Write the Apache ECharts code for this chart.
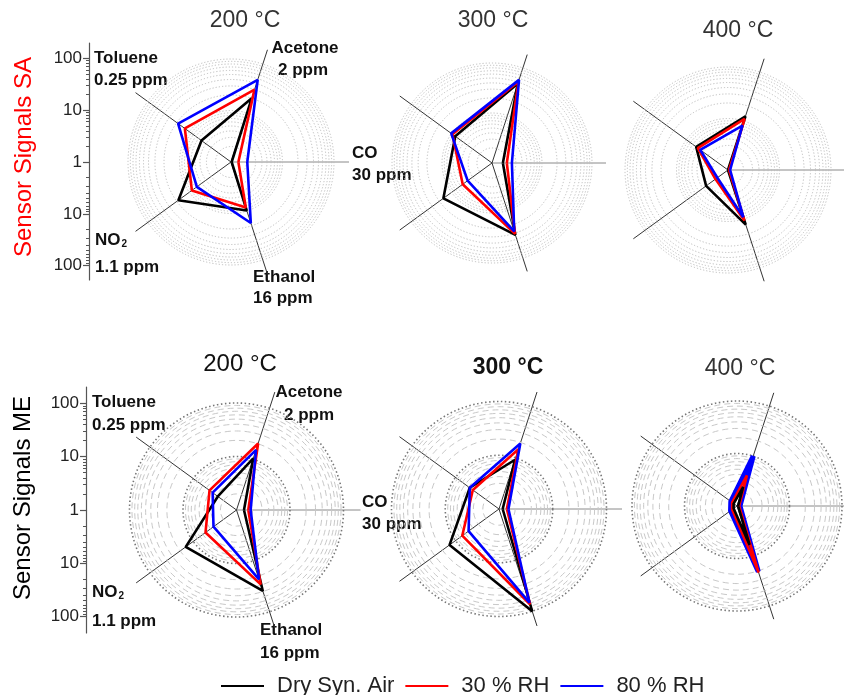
<!DOCTYPE html>
<html>
<head>
<meta charset="utf-8">
<script src="https://cdn.jsdelivr.net/npm/echarts@6/dist/echarts.min.js"></script>
<style>
  html, body { margin: 0; padding: 0; background: #fff; }
  #chart { width: 844px; height: 695px; }
</style>
</head>
<body>
<div id="chart"></div>
<script>
// Gas order around every radar, counter-clockwise starting at the CO spoke
const gases = ['CO', 'Acetone', 'Toluene', 'NO2', 'Ethanol'];
const gasAngles = [0, 72, 144, 216, 288];
const seriesNames = ['Dry Syn. Air', '30 % RH', '80 % RH'];
const panelTitles = ['200 °C', '300 °C', '400 °C', '200 °C', '300 °C', '400 °C'];

// Sensor signals (1 = no response), in gas order: CO, Acetone, Toluene, NO2, Ethanol
// Sensor SA
const saDry200 = [1.03, 20, 5.1, 18.3, 9.8];
const saRh30_200 = [1.39, 30, 12.8, 8.7, 8.5];
const saRh80_200 = [2.07, 47.6, 18.6, 6.6, 17.6];
const saDry300 = [1.65, 47, 8.1, 15.9, 32.5];
const saRh30_300 = [1.98, 52, 9.5, 5.3, 31];
const saRh80_300 = [2.5, 56, 10.2, 4.0, 27.5];
const saDry400 = [1.0, 12.5, 5.8, 3.35, 13];
const saRh30_400 = [1.05, 11.1, 5.3, 2.0, 10.8];
const saRh80_400 = [1.1, 8.1, 4.65, 1.8, 9.2];
// Sensor ME
const meDry200 = [1.38, 10.3, 2.7, 14.9, 39];
const meRh30_200 = [1.66, 20.3, 4.2, 5.2, 29];
const meRh80_200 = [1.84, 15.2, 3.56, 3.4, 23];
const meDry300 = [1.17, 9.2, 4.7, 13.7, 100];
const meRh30_300 = [1.4, 14.7, 4.0, 7.0, 73];
const meRh80_300 = [1.5, 19.2, 4.7, 5.0, 68];
const meDry400 = [1.05, 2.4, 1.2, 1.2, 6];
const meRh30_400 = [1.1, 4.1, 1.3, 1.3, 21.5];
const meRh80_400 = [1.14, 10, 1.4, 1.42, 20.6];

// Log grid rings and tick values
const ringValues = [2, 3, 4, 5, 6, 7, 8, 9, 10, 20, 30, 40, 50, 60, 70, 80, 90, 100];
const majorTickValues = [1, 10, 100];
const minorTickValues = [2, 3, 4, 5, 6, 7, 8, 9, 20, 30, 40, 50, 60, 70, 80, 90];
const upperTickLabels = [1, 10, 100];
const lowerTickLabels = [10, 100];

const FONT = 'Arial, "Liberation Sans", Helvetica, sans-serif';
const lineColors = ['#000000', '#ff0000', '#0000ff'];

// Panel geometry: centre, pixel radius of the 100 ring, spoke length
const panels = [
  { cx: 231, cy: 162, r100: 103, spoke: 118, row: 0, sets: [saDry200, saRh30_200, saRh80_200] },
  { cx: 492, cy: 163, r100: 100, spoke: 114, row: 0, sets: [saDry300, saRh30_300, saRh80_300] },
  { cx: 728, cy: 170, r100: 103, spoke: 117, row: 0, sets: [saDry400, saRh30_400, saRh80_400] },
  { cx: 236.5, cy: 510, r100: 107, spoke: 124, row: 1, sets: [meDry200, meRh30_200, meRh80_200] },
  { cx: 499, cy: 509, r100: 107.5, spoke: 123, row: 1, sets: [meDry300, meRh30_300, meRh80_300] },
  { cx: 737, cy: 506, r100: 105, spoke: 119, row: 1, sets: [meDry400, meRh30_400, meRh80_400], wideBlue: true }
];

// Vertical log scales drawn left of the first column
const leftAxes = [
  { x: 89, cy: 162, perDecade: 51.85, up: 119, down: 118 },
  { x: 86, cy: 510, perDecade: 53.3, up: 123, down: 123 }
];

function closedLoop(vals) {
  const pts = vals.map((v, j) => [v, gasAngles[j]]);
  pts.push([vals[0], 360]);
  return pts;
}

const polar = [], angleAxis = [], radiusAxis = [], series = [];

panels.forEach((p, i) => {
  const maxVal = Math.pow(10, 2 * p.spoke / p.r100);
  polar.push({ center: [p.cx, p.cy], radius: p.spoke });
  angleAxis.push({
    polarIndex: i, type: 'value', min: 0, max: 360, interval: 72,
    startAngle: 0, clockwise: false,
    axisLine: { show: false }, axisTick: { show: false }, axisLabel: { show: false },
    splitLine: { show: true, lineStyle: { color: ['#8a8a8a', '#333', '#333', '#333', '#333'], width: 1 } }
  });
  radiusAxis.push({
    polarIndex: i, type: 'log', logBase: 10, min: 1, max: maxVal,
    axisLine: { show: false }, axisTick: { show: false }, axisLabel: { show: false },
    splitLine: { show: false }
  });

  // Concentric log rings
  series.push({
    type: 'custom', coordinateSystem: 'polar', polarIndex: i, silent: true, z: 1,
    data: ringValues.map(v => [v, 0]),
    renderItem: function (params, api) {
      const v = api.value(0);
      const c = api.coord([1, 0]);
      const e = api.coord([v, 0]);
      const r = Math.hypot(e[0] - c[0], e[1] - c[1]);
      const decade = (v === 10 || v === 100);
      let style;
      if (p.row === 0) {
        style = { fill: 'none', stroke: '#bdbdbd', lineWidth: 1, lineDash: [1.2, 2] };
      } else if (decade) {
        style = { fill: 'none', stroke: '#777', lineWidth: 1.6, lineDash: [1.5, 2.5] };
      } else {
        style = { fill: 'none', stroke: '#c8c8c8', lineWidth: 1, lineDash: [6, 4] };
      }
      return { type: 'circle', shape: { cx: c[0], cy: c[1], r: r }, style: style };
    }
  });

  p.sets.forEach((vals, k) => {
    const w = (p.wideBlue && k === 2) ? 5 : 2.6;
    series.push({
      type: 'line', name: seriesNames[k], coordinateSystem: 'polar', polarIndex: i,
      data: closedLoop(vals), showSymbol: false, symbol: 'none', z: 3 + (p.wideBlue ? 2 - k : k),
      lineStyle: { color: lineColors[k], width: w },
      itemStyle: { color: lineColors[k] }
    });
  });
});

const grid = [], xAxis = [], yAxis = [];
leftAxes.forEach(ax => {
  [false, true].forEach(lower => {
    const ext = lower ? ax.down : ax.up;
    const gi = grid.length;
    grid.push({ left: ax.x, top: lower ? ax.cy : ax.cy - ext, width: 1, height: ext });
    xAxis.push({ gridIndex: gi, type: 'value', show: false });
    const base = {
      gridIndex: gi, type: 'log', logBase: 10, min: 1, max: Math.pow(10, ext / ax.perDecade),
      inverse: lower, position: 'left', splitLine: { show: false }
    };
    yAxis.push(Object.assign({}, base, {
      axisLine: { show: true, lineStyle: { color: '#555', width: 1.2 } },
      axisTick: { show: true, inside: false, length: 6, customValues: lower ? majorTickValues.slice(1) : majorTickValues, lineStyle: { color: '#555', width: 1.2 } },
      axisLabel: { show: true, customValues: lower ? lowerTickLabels : upperTickLabels, fontSize: 17, color: '#222', margin: 7, fontFamily: FONT }
    }));
    yAxis.push(Object.assign({}, base, {
      axisLine: { show: false },
      axisTick: { show: true, inside: false, length: 3, customValues: minorTickValues, lineStyle: { color: '#555', width: 1 } },
      axisLabel: { show: false }
    }));
  });
});

// Text helpers
function label(text, x, y, align, extra) {
  return {
    type: 'text', x: x, y: y, silent: true,
    style: Object.assign({ text: text, fill: '#111', font: 'bold 17px ' + FONT, align: align || 'left', verticalAlign: 'middle' }, extra || {})
  };
}
const noRich = { rich: { s: { fontSize: 10, fontWeight: 'bold', fontFamily: FONT, fill: '#111', verticalAlign: 'bottom', padding: [9, 0, 0, 1] } } };

const graphics = [
  // panel titles
  label(panelTitles[0], 245, 21, 'center', { font: '23px ' + FONT, fill: '#333' }),
  label(panelTitles[1], 493, 21, 'center', { font: '23px ' + FONT, fill: '#333' }),
  label(panelTitles[2], 738, 31, 'center', { font: '23px ' + FONT, fill: '#333' }),
  label(panelTitles[3], 240, 364, 'center', { font: '24px ' + FONT, fill: '#111' }),
  label(panelTitles[4], 508, 368, 'center', { font: 'bold 23px ' + FONT, fill: '#111' }),
  label(panelTitles[5], 740, 369, 'center', { font: '23px ' + FONT, fill: '#333' }),
  // row titles
  { type: 'text', x: 24, y: 157, rotation: Math.PI / 2, silent: true,
    style: { text: 'Sensor Signals SA', fill: '#ff0000', font: '24px ' + FONT, align: 'center', verticalAlign: 'middle' } },
  { type: 'text', x: 23, y: 498, rotation: Math.PI / 2, silent: true,
    style: { text: 'Sensor Signals ME', fill: '#000', font: '24px ' + FONT, align: 'center', verticalAlign: 'middle' } },
  // gas labels, top row
  label('Toluene', 94, 58), label('0.25 ppm', 94, 80),
  label('Acetone', 305, 48, 'center'), label('2 ppm', 303, 70, 'center'),
  label('CO', 352, 153), label('30 ppm', 352, 175),
  label('NO{s|2}', 95, 240, 'left', noRich), label('1.1 ppm', 95, 267),
  label('Ethanol', 253, 277), label('16 ppm', 253, 298),
  // gas labels, bottom row
  label('Toluene', 92, 402), label('0.25 ppm', 92, 425),
  label('Acetone', 309, 392, 'center'), label('2 ppm', 309, 415, 'center'),
  label('CO', 362, 502), label('30 ppm', 362, 524),
  label('NO{s|2}', 92, 592, 'left', noRich), label('1.1 ppm', 92, 621),
  label('Ethanol', 260, 630), label('16 ppm', 260, 653)
];

const chart = echarts.init(document.getElementById('chart'), null, { renderer: 'canvas' });
chart.setOption({
  animation: false,
  backgroundColor: '#ffffff',
  legend: {
    left: 216, top: 670, icon: 'rect', itemWidth: 43, itemHeight: 2, itemGap: 11,
    selectedMode: false, data: seriesNames,
    textStyle: { fontSize: 22, color: '#222', fontFamily: FONT, padding: [0, 0, 0, 8] }
  },
  polar: polar,
  angleAxis: angleAxis,
  radiusAxis: radiusAxis,
  grid: grid,
  xAxis: xAxis,
  yAxis: yAxis,
  graphic: graphics,
  series: series
});
</script>
</body>
</html>
